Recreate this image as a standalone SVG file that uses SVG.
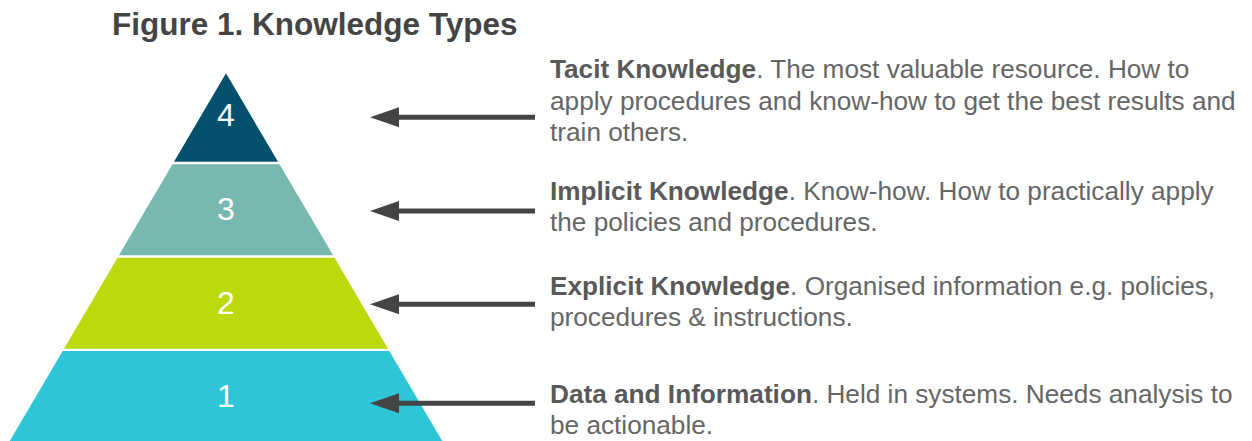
<svg xmlns="http://www.w3.org/2000/svg" width="1252" height="441" viewBox="0 0 1252 441">
<style>
.title{font-family:"Liberation Sans",Arial,sans-serif;font-weight:bold;font-size:31.5px;fill:#444}
.num{font-family:"Liberation Sans",Arial,sans-serif;font-size:32px;fill:#fff;text-anchor:middle}
.desc{font-family:"Liberation Sans",Arial,sans-serif;font-size:26.2px;fill:#666}
.desc .b{font-weight:bold;fill:#595959}
.conn line{stroke:#444;stroke-width:5}
.conn polygon{fill:#444}
</style>
<rect width="1252" height="441" fill="#fff"/>
<text class="title" x="112" y="35">Figure 1. Knowledge Types</text>
<g id="tier4">
<polygon points="226,73.3 278,161.7 174,161.7" fill="#02506c"/>
<text class="num" x="226" y="126">4</text>
</g>
<g id="tier3">
<polygon points="172.5,164.3 279.5,164.3 333.1,255.3 118.9,255.3" fill="#77b9b0"/>
<text class="num" x="226" y="220">3</text>
</g>
<g id="tier2">
<polygon points="117.5,257.7 334.5,257.7 388,348.7 64,348.7" fill="#bcd90b"/>
<text class="num" x="226" y="314">2</text>
</g>
<g id="tier1">
<polygon points="62.7,351 389.3,351 444.6,445 7.4,445" fill="#2ec5d6"/>
<text class="num" x="226" y="407">1</text>
</g>
<g id="connectors" class="conn">
<line x1="535" y1="117.3" x2="396" y2="117.3"/><polygon points="370,117.3 399,107.3 399,127.3"/>
<line x1="535" y1="211" x2="396" y2="211"/><polygon points="370,211 399,201 399,221"/>
<line x1="535" y1="304.3" x2="396" y2="304.3"/><polygon points="370,304.3 399,294.3 399,314.3"/>
<line x1="535" y1="403.3" x2="396" y2="403.3"/><polygon points="370,403.3 399,393.3 399,413.3"/>
</g>
<g id="desc4">
<text class="desc" x="550" y="78"><tspan class="b">Tacit Knowledge</tspan>. The most valuable resource. How to</text>
<text class="desc" x="550" y="109.5">apply procedures and know-how to get the best results and</text>
<text class="desc" x="550" y="141">train others.</text>
</g>
<g id="desc3">
<text class="desc" x="550" y="199.5"><tspan class="b">Implicit Knowledge</tspan>. Know-how. How to practically apply</text>
<text class="desc" x="550" y="231">the policies and procedures.</text>
</g>
<g id="desc2">
<text class="desc" x="550" y="294.5"><tspan class="b">Explicit Knowledge</tspan>. Organised information e.g. policies,</text>
<text class="desc" x="550" y="326">procedures &amp; instructions.</text>
</g>
<g id="desc1">
<text class="desc" x="550" y="402.5"><tspan class="b">Data and Information</tspan>. Held in systems. Needs analysis to</text>
<text class="desc" x="550" y="434">be actionable.</text>
</g>
</svg>
